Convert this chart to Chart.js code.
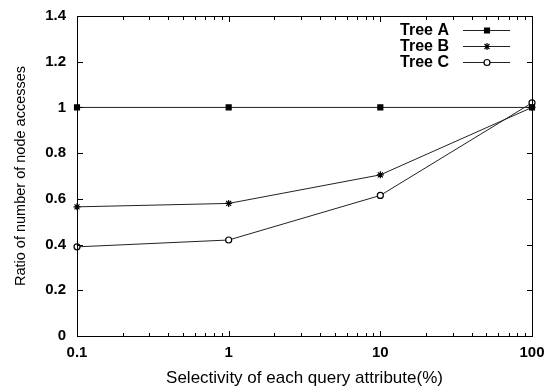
<!DOCTYPE html>
<html><head><meta charset="utf-8">
<script src="https://cdn.jsdelivr.net/npm/chart.js@4"></script>
<style>html,body{margin:0;padding:0;background:#fff}#w{width:547px;height:389px;position:relative}</style>
</head><body><div id="w"><canvas id="c"></canvas></div>
<script>
const selectivity = [0.1, 1, 10, 100];
const treeA = [1.0, 1.0, 1.0, 1.0];
const treeB = [0.565, 0.58, 0.705, 1.0];
const treeC = [0.39, 0.42, 0.615, 1.02];
const seriesLabels = ['Tree A', 'Tree B', 'Tree C'];
const xTickLabels = [0.1, 1, 10, 100];
const yTickValues = [0, 0.2, 0.4, 0.6, 0.8, 1, 1.2, 1.4];
const xTitle = 'Selectivity of each query attribute(%)';
const yTitle = 'Ratio of number of node accesses';

const FONT = "'Liberation Sans', Arial, sans-serif";
const LINE = '#222';

function pts(vals){ return selectivity.map((x,i)=>({x:x,y:vals[i]})); }

const styles = [
  {pointStyle:'rect', pointRadius:3.5, pointBackgroundColor:'#000', pointBorderColor:'#000'},
  {pointStyle:'star', pointRadius:3.5, pointBackgroundColor:'#000', pointBorderColor:'#000'},
  {pointStyle:'circle', pointRadius:3, pointBackgroundColor:'#fff', pointBorderColor:'#000'}
];

const datasets = [treeA, treeB, treeC].map((v,i)=>Object.assign({
  label: seriesLabels[i], data: pts(v), borderColor: LINE, borderWidth: 1,
  pointBorderWidth: 1.2, tension: 0, fill: false, clip: false
}, styles[i]));

const framePlugin = {
  id: 'frame',
  afterDraw(chart){
    const ctx = chart.ctx, a = chart.chartArea;
    const xs = chart.scales.x, ys = chart.scales.y;
    ctx.save();
    ctx.strokeStyle = '#000'; ctx.lineWidth = 1;
    ctx.strokeRect(Math.round(a.left)+0.5, Math.round(a.top)+0.5, Math.round(a.right-a.left), Math.round(a.bottom-a.top));
    const L0 = Math.round(a.left), R0 = Math.round(a.right), T0 = Math.round(a.top), B0 = Math.round(a.bottom);
    ctx.fillStyle = '#000';
    yTickValues.forEach(v=>{
      const y = Math.round(ys.getPixelForValue(v));
      ctx.fillRect(L0, y, 6, 1);
      ctx.fillRect(R0 - 5, y, 6, 1);
    });
    for (let d = 0.1; d < 100; d *= 10) {
      for (let m = 1; m <= 10; m++) {
        const v = d*m;
        const x = Math.round(xs.getPixelForValue(v));
        const L = (m === 1 || m === 10) ? 6 : 4;
        ctx.fillRect(x, B0 - L + 1, 1, L);
        ctx.fillRect(x, T0, 1, L);
      }
    }

    ctx.font = 'bold 16px ' + FONT;
    ctx.textAlign = 'right'; ctx.textBaseline = 'middle';
    chart.data.datasets.forEach((ds,i)=>{
      const y = Math.round(29.5 + 16*i) + 0.5;
      ctx.fillStyle = '#000';
      ctx.fillText(ds.label, 449, y);
      ctx.strokeStyle = LINE; ctx.lineWidth = 1;
      ctx.beginPath(); ctx.moveTo(463, y); ctx.lineTo(510, y); ctx.stroke();
      ctx.fillStyle = ds.pointBackgroundColor; ctx.strokeStyle = '#000'; ctx.lineWidth = 1.2;
      Chart.helpers.drawPoint(ctx, {pointStyle: ds.pointStyle, radius: ds.pointRadius, rotation: 0, borderWidth: 1.2}, 487, y);
    });
    ctx.restore();
  }
};

new Chart(document.getElementById('c'), {
  type: 'line',
  data: { datasets: datasets },
  options: {
    responsive: true, maintainAspectRatio: false, animation: false,
    layout: { padding: { top: 16, right: 15, left: 0, bottom: 0 } },
    plugins: { legend: { display: false }, tooltip: { enabled: false } },
    scales: {
      x: {
        type: 'logarithmic', min: 0.1, max: 100,
        afterFit(s){ s.height = 53; s.paddingLeft = 0; s.paddingRight = 0; },
        grid: { display: false, drawTicks: false },
        border: { display: false },
        ticks: {
          autoSkip: false, maxRotation: 0, padding: 8, color: '#000',
          font: { family: FONT, size: 15, weight: 'bold' },
          callback(v){ return xTickLabels.some(t=>Math.abs(t-v)<1e-9) ? String(v) : ''; }
        },
        title: { display: true, text: xTitle, color: '#000', font: { family: FONT, size: 17 }, padding: { top: 0, bottom: 0 } }
      },
      y: {
        min: 0, max: 1.4,
        afterFit(s){ s.width = 77; s.paddingTop = 0; s.paddingBottom = 0; },
        afterBuildTicks(s){ s.ticks = yTickValues.map(v=>({value:v})); },
        grid: { display: false, drawTicks: false },
        border: { display: false },
        ticks: { padding: 11, color: '#000', font: { family: FONT, size: 15, weight: 'bold' },
          callback(v){ return String(Math.round(v*10)/10); } },
        title: { display: true, text: yTitle, color: '#000', font: { family: FONT, size: 14.5 }, padding: { top: 12, bottom: 0 } }
      }
    }
  },
  plugins: [framePlugin]
});
</script>
</body></html>
